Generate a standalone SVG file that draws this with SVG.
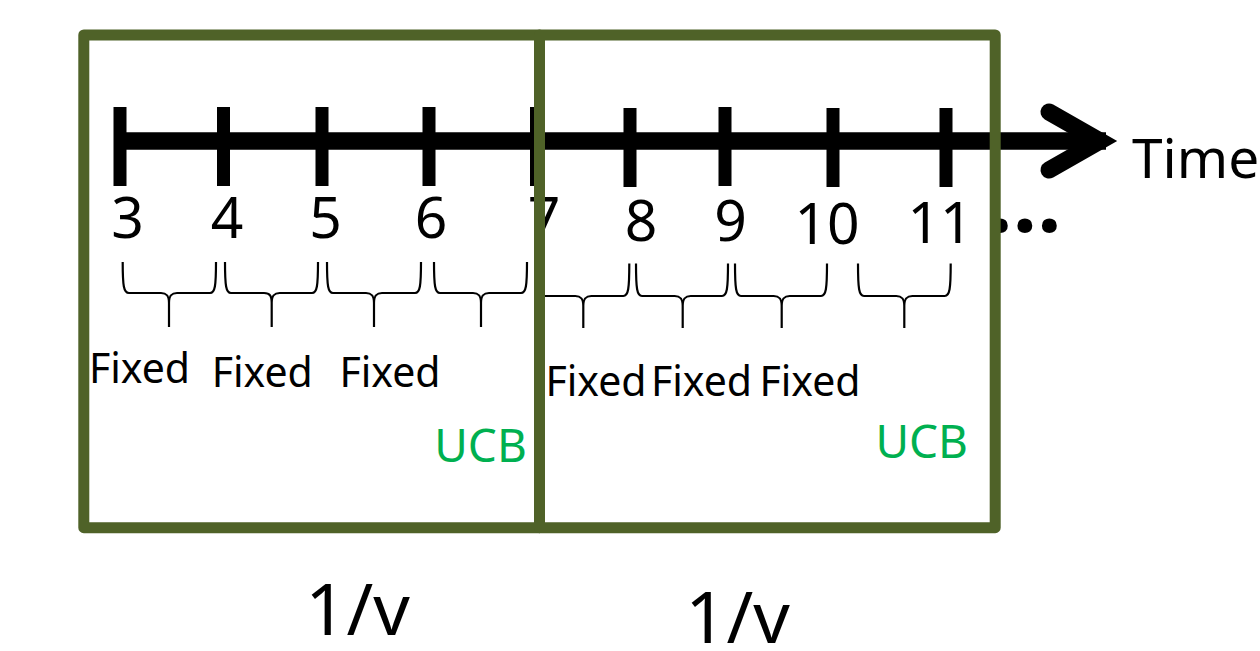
<svg xmlns="http://www.w3.org/2000/svg" width="1260" height="651" viewBox="0 0 1260 651">
<style>
text{font-family:"Noto Sans","Open Sans",sans-serif;fill:#000}
.num{font-size:57px;text-anchor:middle}
.fx{font-size:41px;text-anchor:middle}
.ucb{font-size:46px;text-anchor:middle;fill:#00B050}
.inv{font-size:72px;text-anchor:middle}
.tick{stroke:#000;stroke-width:13}
.brace{fill:none;stroke:#000;stroke-width:2.2;stroke-linejoin:round}
.frame{fill:none;stroke:#4F6228;stroke-width:11;stroke-linejoin:round}
</style>
<rect width="1260" height="651" fill="#fff"/>
<g id="axis">
<line x1="118" y1="141" x2="1106" y2="141" stroke="#000" stroke-width="17.5"/>
<path d="M1049,112 L1100,141 L1049,170" fill="none" stroke="#000" stroke-width="17" stroke-linecap="round" stroke-linejoin="miter" stroke-miterlimit="10"/>
<line class="tick" x1="120" y1="107" x2="120" y2="186"/>
<line class="tick" x1="223.5" y1="107" x2="223.5" y2="186"/>
<line class="tick" x1="322" y1="107" x2="322" y2="186"/>
<line class="tick" x1="429" y1="107" x2="429" y2="186"/>
<line class="tick" x1="536.5" y1="107" x2="536.5" y2="186"/>
<line class="tick" x1="630" y1="108" x2="630" y2="187"/>
<line class="tick" x1="725" y1="107" x2="725" y2="186"/>
<line class="tick" x1="833" y1="108" x2="833" y2="187"/>
<line class="tick" x1="946" y1="108" x2="946" y2="187"/>
<text x="1132" y="178" style="font-size:55px">Time</text>
</g>
<g id="labels">
<text class="num" x="127.5" y="238">3</text>
<text class="num" x="227" y="238">4</text>
<text class="num" x="325.5" y="238">5</text>
<text class="num" x="431" y="238">6</text>
<text class="num" x="544" y="238">7</text>
<text class="num" x="641" y="240.5">8</text>
<text class="num" x="730.5" y="240.5">9</text>
<text class="num" x="827" y="244">10</text>
<text class="num" x="940" y="243">11</text>
<text x="1025" y="232" style="font-size:86px;font-weight:bold;text-anchor:middle">…</text>
</g>
<g id="braces">
<path class="brace" d="M122.7,262 C122.7,286 123.7,293 129,293 L161,293 C167,293 169,296 169,303 L169,327 M169,303 C169,296 171,293 177,293 L210,293 C215,293 216,286 216,262"/>
<path class="brace" d="M225,262 C225,286 226,293 231,293 L264,293 C270,293 271.7,296 271.7,303 L271.7,327 M271.7,303 C271.7,296 273.7,293 279.7,293 L312,293 C317,293 318,286 318,262"/>
<path class="brace" d="M327,262 C327,286 328,293 333,293 L366,293 C372,293 374,296 374,303 L374,327 M374,303 C374,296 376,293 382,293 L415,293 C420,293 421,286 421,262"/>
<path class="brace" d="M434,262 C434,286 435,293 440,293 L473,293 C479,293 481,296 481,303 L481,327 M481,303 C481,296 483,293 489,293 L521,293 C526,293 527,286 527,262"/>
<path class="brace" d="M537,263.5 C537,289 538,296 543,296 L575.3,296 C581.3,296 583.3,299 583.3,306 L583.3,328 M583.3,306 C583.3,299 585.3,296 591.3,296 L623.3,296 C628.3,296 629.3,289 629.3,263.5"/>
<path class="brace" d="M636,263.5 C636,289 637,296 642,296 L674.7,296 C680.7,296 682.7,299 682.7,306 L682.7,328 M682.7,306 C682.7,299 684.7,296 690.7,296 L722,296 C727,296 728,289 728,263.5"/>
<path class="brace" d="M735,263.5 C735,289 736,296 741,296 L773.7,296 C779.7,296 781.7,299 781.7,306 L781.7,328 M781.7,306 C781.7,299 783.7,296 789.7,296 L821,296 C826,296 827,289 827,263.5"/>
<path class="brace" d="M858,263.5 C858,289 859,296 864,296 L896.3,296 C902.3,296 904.3,299 904.3,306 L904.3,328 M904.3,306 C904.3,299 906.3,296 912.3,296 L944.7,296 C949.7,296 950.7,289 950.7,263.5"/>
</g>
<g id="fixed-labels">
<text class="fx" x="139.5" y="383.3">Fixed</text>
<text class="fx" x="262.3" y="386.7">Fixed</text>
<text class="fx" x="390" y="386.7">Fixed</text>
<text class="fx" x="596" y="395.7">Fixed</text>
<text class="fx" x="701.5" y="395.7">Fixed</text>
<text class="fx" x="810" y="395.7">Fixed</text>
</g>
<g id="window-1">
<rect class="frame" x="83.8" y="35" width="455.7" height="492.7"/>
<text class="ucb" x="480.5" y="461.7">UCB</text>
<text class="inv" x="357.5" y="635">1/v</text>
</g>
<g id="window-2">
<rect class="frame" x="539.5" y="35" width="455.7" height="492.7"/>
<text class="ucb" x="921.7" y="457.7">UCB</text>
<text class="inv" x="737.5" y="643.3">1/v</text>
</g>
</svg>
